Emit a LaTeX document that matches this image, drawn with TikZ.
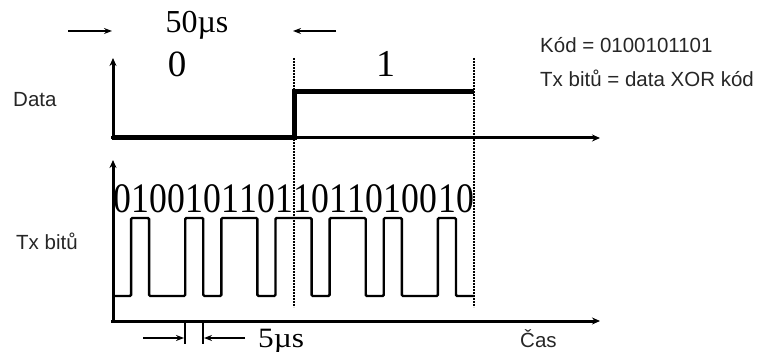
\documentclass[tikz,border=0pt]{standalone}
\usepackage{fontspec}
\setmainfont{Liberation Serif}
\newfontfamily\sansf{Liberation Sans}
\usetikzlibrary{arrows.meta}
\begin{document}
\begin{tikzpicture}[x=1pt,y=-1pt,
  axis/.style={line width=3pt,-{Stealth[length=8pt,width=7pt]}},
  dimarrow/.style={line width=2.2pt,-{Stealth[length=8pt,width=6pt]}},
  tick/.style={line width=2pt},
  datasig/.style={line width=5pt,line join=miter},
  txsig/.style={line width=2.4pt,rounded corners=1.2pt},
  guide/.style={line width=2.2pt,dash pattern=on 1.6pt off 1.4pt},
  sanslabel/.style={font=\sansf\fontsize{20.5}{24}\selectfont,anchor=base west,inner sep=0pt,text=black!85},
  bitdigit/.style={font=\fontsize{42}{42}\selectfont,anchor=base,inner sep=0pt,xscale=0.85},
  bigserif/.style={anchor=base,inner sep=0pt}]
\useasboundingbox (0,0) rectangle (767,352);

% coordinates
\coordinate (dO) at (113,138);
\coordinate (dTop) at (113,58);
\coordinate (dRight) at (600,138);
\coordinate (tO) at (113,321);
\coordinate (tTop) at (113,160);
\coordinate (tRight) at (600,321);

% axes
\draw[axis] (113,140) -- (dTop);
\draw[axis] (111,138) -- (dRight);
\draw[axis] (113,323) -- (tTop);
\draw[axis] (111,321) -- (tRight);

% dotted guides
\coordinate (g1a) at (294,58); \coordinate (g1b) at (294,307);
\coordinate (g2a) at (474,58); \coordinate (g2b) at (474,307);
\draw[guide] (g1a) -- (g1b);
\draw[guide] (g2a) -- (g2b);

% data signal
\draw[datasig] (dO) -- (294,138) -- (294,92) -- (474,92);

% Tx signal  bits 01001011011011010010
\def\w{18.05}
\draw[txsig] (113,296)
  -- ({113+1*\w},296) -- ({113+1*\w},218) -- ({113+2*\w},218) -- ({113+2*\w},296)
  -- ({113+4*\w},296) -- ({113+4*\w},218) -- ({113+5*\w},218) -- ({113+5*\w},296)
  -- ({113+6*\w},296) -- ({113+6*\w},218) -- ({113+8*\w},218) -- ({113+8*\w},296)
  -- ({113+9*\w},296) -- ({113+9*\w},218) -- ({113+11*\w},218) -- ({113+11*\w},296)
  -- ({113+12*\w},296) -- ({113+12*\w},218) -- ({113+14*\w},218) -- ({113+14*\w},296)
  -- ({113+15*\w},296) -- ({113+15*\w},218) -- ({113+16*\w},218) -- ({113+16*\w},296)
  -- ({113+18*\w},296) -- ({113+18*\w},218) -- ({113+19*\w},218) -- ({113+19*\w},296)
  -- (474,296);

% bit digits
\foreach \b [count=\k from 0] in {0,1,0,0,1,0,1,1,0,1,1,0,1,1,0,1,0,0,1,0} {
  \node[bitdigit] (bit\k) at ({113+(\k+0.5)*\w},213) {\b};
}

% top labels
\node[bigserif,font=\fontsize{32}{32}\selectfont] (t50) at (197,33) {50µs};
\node[bigserif,font=\fontsize{37}{37}\selectfont] (l0) at (177,77) {0};
\node[bigserif,font=\fontsize{38}{38}\selectfont] (l1) at (386,77) {1};

% top dimension arrows
\coordinate (a1s) at (68,31); \coordinate (a1e) at (112,31);
\coordinate (a2s) at (336,31); \coordinate (a2e) at (293,31);
\draw[dimarrow] (a1s) -- (a1e);
\draw[dimarrow] (a2s) -- (a2e);

% bottom dimension arrows
\coordinate (b1s) at (143,338); \coordinate (b1e) at (184,338);
\coordinate (b2s) at (245,338); \coordinate (b2e) at (204,338);
\coordinate (k1a) at (185,323); \coordinate (k1b) at (185,344);
\coordinate (k2a) at (203,323); \coordinate (k2b) at (203,344);
\draw[dimarrow] (b1s) -- (b1e);
\draw[dimarrow] (b2s) -- (b2e);
\draw[tick] (k1a) -- (k1b);
\draw[tick] (k2a) -- (k2b);
\node[bigserif,anchor=base west,font=\fontsize{28}{28}\selectfont,xscale=1.12] (t5) at (258,347) {5µs};

% sans labels
\node[sanslabel] (ldata) at (13,107) {Data};
\node[sanslabel] (ltx) at (16,250) {Tx bitů};
\node[sanslabel] (lkod) at (540,53) {Kód = 0100101101};
\node[sanslabel] (lxor) at (540,87) {Tx bitů = data XOR kód};
\node[sanslabel] (lcas) at (520,347) {Čas};
\end{tikzpicture}
\end{document}
